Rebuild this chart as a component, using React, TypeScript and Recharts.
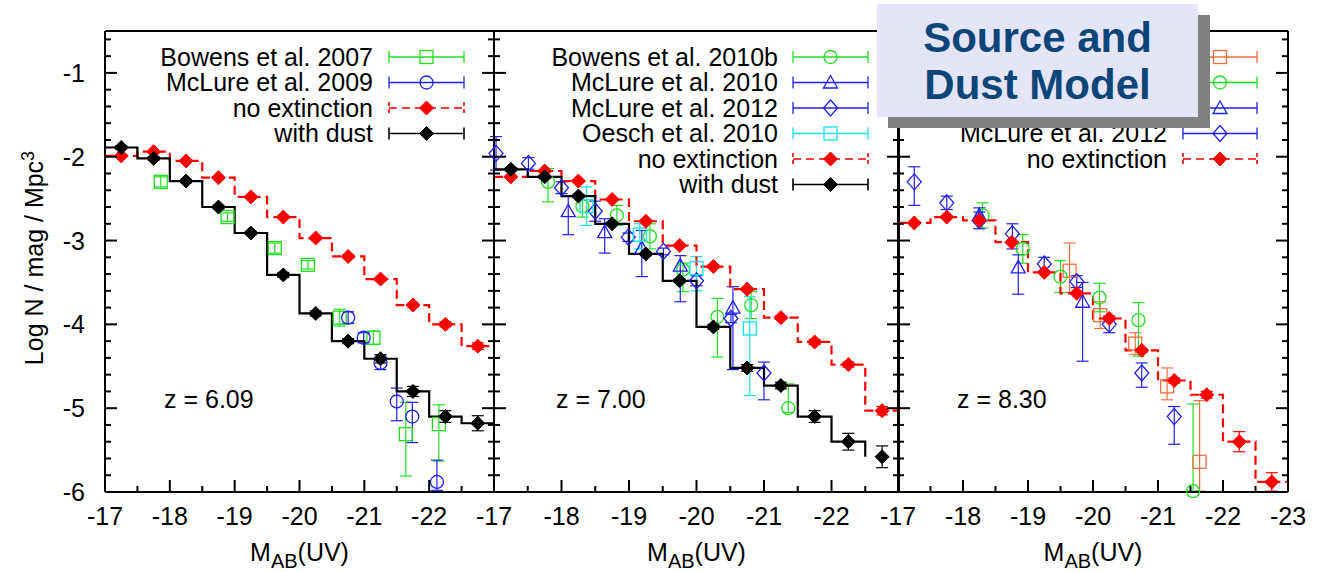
import React from "react";
import { ComposedChart, ErrorBar, Line, Scatter, XAxis, YAxis } from "recharts";

const W = 1328;
const H = 572;
const TOP = 31;
const BOTTOM = 492;
const FONT = '"Liberation Sans", Arial, Helvetica, sans-serif';

const GREEN = "#20e020";
const BLUE = "#2020f0";
const CYAN = "#10e6f0";
const RED = "#ff0000";
const ORANGE = "#f0703c";
const BLACK = "#000000";

// axes
const xTicks = [-17, -17.5, -18, -18.5, -19, -19.5, -20, -20.5, -21, -21.5, -22, -22.5, -23];
const yTicks = [
  -6, -5.8, -5.6, -5.4, -5.2, -5, -4.8, -4.6, -4.4, -4.2, -4, -3.8, -3.6, -3.4, -3.2, -3, -2.8, -2.6,
  -2.4, -2.2, -2, -1.8, -1.6, -1.4, -1.2, -1, -0.8, -0.6,
];
const yTickLabels = [-6, -5, -4, -3, -2, -1];
const xTickLabels = [-17, -18, -19, -20, -21, -22];
const xTickLabelsLast = [-17, -18, -19, -20, -21, -22, -23];

// model bins (centres, 0.5 mag wide)
const BIN = 0.5;
const modelBins = [-17.25, -17.75, -18.25, -18.75, -19.25, -19.75, -20.25, -20.75, -21.25, -21.75, -22.25, -22.75];

// z = 6.09
const z6NoExt = [-1.99, -1.94, -2.05, -2.25, -2.48, -2.72, -2.97, -3.19, -3.46, -3.77, -4.0, -4.26];
const z6NoExtErr = [0.01, 0.01, 0.01, 0.01, 0.01, 0.01, 0.01, 0.02, 0.02, 0.02, 0.03, 0.04];
const z6Dust = [-1.89, -2.02, -2.29, -2.6, -2.91, -3.41, -3.87, -4.2, -4.41, -4.8, -5.1, -5.18];
const z6DustErr = [0.02, 0.02, 0.02, 0.02, 0.02, 0.03, 0.03, 0.03, 0.05, 0.06, 0.07, 0.09];

const bowens07M = [-17.86, -18.89, -19.62, -20.13, -20.62, -21.14, -21.64, -22.15];
const bowens07Y = [-2.3, -2.72, -3.09, -3.29, -3.92, -4.16, -5.31, -5.19];
const bowens07Lo = [0.06, 0.05, 0.06, 0.05, 0.1, 0.08, 0.5, 0.44];
const bowens07Hi = [0.06, 0.05, 0.06, 0.05, 0.1, 0.08, 0.38, 0.23];

const mclure09M = [-20.75, -20.99, -21.25, -21.5, -21.74, -22.12];
const mclure09Y = [-3.92, -4.16, -4.46, -4.92, -5.1, -5.88];
const mclure09Lo = [0.07, 0.06, 0.08, 0.23, 0.31, 0.1];
const mclure09Hi = [0.07, 0.06, 0.08, 0.16, 0.17, 0.26];

// z = 7.00
const z7NoExt = [-2.24, -2.17, -2.29, -2.51, -2.77, -3.06, -3.31, -3.58, -3.92, -4.21, -4.48, -5.03];
const z7NoExtErr = [0.01, 0.01, 0.01, 0.01, 0.01, 0.01, 0.02, 0.02, 0.02, 0.03, 0.03, 0.05];
const z7Dust = [-2.15, -2.24, -2.47, -2.8, -3.16, -3.48, -4.03, -4.52, -4.73, -5.1, -5.4, -5.58];
const z7DustErr = [0.02, 0.02, 0.02, 0.02, 0.02, 0.02, 0.03, 0.04, 0.04, 0.07, 0.1, 0.13];

const bowens10M = [-17.8, -18.31, -18.82, -19.31, -19.8, -20.31, -20.81, -21.36];
const bowens10Y = [-2.3, -2.59, -2.7, -2.95, -3.35, -3.91, -3.77, -5.0];
const bowens10Lo = [0.24, 0.13, 0.12, 0.15, 0.26, 0.48, 0.16, 0.05];
const bowens10Hi = [0.16, 0.13, 0.12, 0.15, 0.08, 0.22, 0.16, 0.29];

const mclure10M = [-18.1, -18.64, -19.19, -19.76, -20.54];
const mclure10Y = [-2.65, -2.9, -3.09, -3.3, -3.8];
const mclure10Lo = [0.28, 0.25, 0.34, 0.43, 0.74];
const mclure10Hi = [0.18, 0.16, 0.21, 0.12, 0.25];

const mclure12M = [-17.03, -17.51, -18.0, -18.5, -18.99, -19.51, -20.0, -20.51, -21.0];
const mclure12Y = [-1.96, -2.08, -2.37, -2.65, -2.96, -3.13, -3.48, -3.93, -4.58];
const mclure12Lo = [0.2, 0.07, 0.07, 0.12, 0.05, 0.04, 0.06, 0.05, 0.32];
const mclure12Hi = [0.2, 0.07, 0.07, 0.12, 0.05, 0.04, 0.06, 0.05, 0.13];

const oeschM = [-18.37, -19.16, -20.0, -20.79];
const oeschY = [-2.59, -2.93, -3.33, -4.05];
const oeschLo = [0.23, 0.17, 0.27, 0.8];
const oeschHi = [0.23, 0.13, 0.14, 0.38];

// z = 8.30
const z8NoExt = [-2.79, -2.72, -2.76, -3.02, -3.38, -3.63, -3.93, -4.31, -4.67, -4.84, -5.4, -5.88];
const z8NoExtErr = [0.01, 0.01, 0.01, 0.01, 0.01, 0.01, 0.02, 0.02, 0.03, 0.04, 0.12, 0.11];

const bradleyM = [-19.64, -20.11, -20.65, -21.14, -21.64];
const bradleyY = [-3.36, -3.89, -4.23, -4.74, -5.64];
const bradleyLo = [0.26, 0.16, 0.13, 0.16, 0.35];
const bradleyHi = [0.33, 0.16, 0.13, 0.22, 0.73];

const bowens11M = [-18.3, -18.92, -19.5, -20.1, -20.7, -21.54];
const bowens11Y = [-2.7, -3.1, -3.43, -3.68, -3.95, -5.99];
const bowens11Lo = [0.15, 0.17, 0.19, 0.17, 0.43, 0];
const bowens11Hi = [0.15, 0.17, 0.19, 0.17, 0.21, 1.04];

const mclure10bM = [-18.25, -18.85, -19.84];
const mclure10bY = [-2.7, -3.32, -3.73];
const mclure10bLo = [0.09, 0.32, 0.71];
const mclure10bHi = [0.09, 0.15, 0.23];

const mclure12bM = [-17.25, -17.75, -18.25, -18.76, -19.25, -19.75, -20.25, -20.75, -21.25];
const mclure12bY = [-2.3, -2.55, -2.76, -2.92, -3.28, -3.49, -4.0, -4.58, -5.1];
const mclure12bLo = [0.28, 0.08, 0.1, 0.18, 0.08, 0.07, 0.1, 0.17, 0.33];
const mclure12bHi = [0.18, 0.08, 0.1, 0.12, 0.08, 0.07, 0.1, 0.12, 0.12];

type MarkerKind = "square" | "circle" | "triangle" | "diamond" | "fdiamond";
type Pt = { x: number; y: number; err: [number, number] };
type Layer =
  | { kind: "points"; data: Pt[]; color: string; marker: MarkerKind }
  | { kind: "step"; data: { x: number; y: number }[]; color: string; dashed: boolean };

function points(m: number[], y: number[], lo: number[], hi: number[]): Pt[] {
  return m.map((x, i) => ({ x, y: y[i], err: [lo[i], hi[i]] as [number, number] }));
}

function steps(values: number[], toEdge: boolean) {
  const pts = modelBins.map((c, i) => ({ x: c + BIN / 2, y: values[i] }));
  if (toEdge) pts.push({ x: modelBins[modelBins.length - 1] - BIN / 2, y: values[values.length - 1] });
  return pts;
}

function Marker({ kind, cx, cy, color }: { kind: MarkerKind; cx?: number; cy?: number; color: string }) {
  if (cx == null || cy == null) return null;
  const s = { fill: "none", stroke: color, strokeWidth: 1.3 };
  switch (kind) {
    case "square":
      return <rect x={cx - 6.5} y={cy - 6.5} width={13} height={13} {...s} />;
    case "circle":
      return <circle cx={cx} cy={cy} r={6.5} {...s} />;
    case "triangle":
      return <polygon points={`${cx},${cy - 7} ${cx + 7},${cy + 5.5} ${cx - 7},${cy + 5.5}`} {...s} />;
    case "diamond":
      return <polygon points={`${cx},${cy - 8} ${cx + 7},${cy} ${cx},${cy + 8} ${cx - 7},${cy}`} {...s} />;
    default:
      return <polygon points={`${cx},${cy - 7} ${cx + 7},${cy} ${cx},${cy + 7} ${cx - 7},${cy}`} fill={color} stroke={color} strokeWidth={1} />;
  }
}

const isMajor = (v: number) => Math.abs(v - Math.round(v)) < 1e-6;

function XTick(props: any) {
  const { x, y, payload, side, labels } = props;
  const v = payload.value;
  const len = isMajor(v) ? 12 : 6;
  const dir = side === "bottom" ? -1 : 1;
  const show = side === "bottom" && labels.some((l: number) => Math.abs(l - v) < 1e-6);
  return (
    <g>
      <line x1={x} x2={x} y1={y} y2={y + dir * len} stroke="#000" strokeWidth={2} />
      {show && (
        <text x={x} y={y + 33} textAnchor="middle" fontSize={25} fontFamily={FONT} fill="#000">
          {String(v)}
        </text>
      )}
    </g>
  );
}

function YTick(props: any) {
  const { x, y, payload, side, labels } = props;
  const v = payload.value;
  const len = isMajor(v) ? 12 : 6;
  const dir = side === "left" ? 1 : -1;
  const show = labels && labels.some((l: number) => Math.abs(l - v) < 1e-6);
  return (
    <g>
      <line x1={x} x2={x + dir * len} y1={y} y2={y} stroke="#000" strokeWidth={2} />
      {show && (
        <text x={x - 20} y={y + 9} textAnchor="end" fontSize={25} fontFamily={FONT} fill="#000">
          {String(v)}
        </text>
      )}
    </g>
  );
}

function Panel({
  left,
  right,
  layers,
  xLabels,
  yLabels,
}: {
  left: number;
  right: number;
  layers: Layer[];
  xLabels: number[];
  yLabels?: number[];
}) {
  const axisLine = { stroke: "#000", strokeWidth: 2 };
  return (
    <div style={{ position: "absolute", left: 0, top: 0 }}>
      <ComposedChart
        width={W}
        height={H}
        margin={{ top: TOP - 1, bottom: H - BOTTOM - 1, left: left - 1, right: W - right - 1 }}
      >
        <XAxis
          xAxisId="b"
          type="number"
          dataKey="x"
          domain={[-23, -17]}
          reversed
          ticks={xTicks}
          interval={0}
          height={1}
          tickSize={0}
          tickMargin={0}
          tickLine={false}
          axisLine={axisLine}
          tick={(p: any) => <XTick {...p} side="bottom" labels={xLabels} />}
        />
        <XAxis
          xAxisId="t"
          orientation="top"
          type="number"
          domain={[-23, -17]}
          allowDataOverflow
          reversed
          ticks={xTicks}
          interval={0}
          height={1}
          tickSize={0}
          tickMargin={0}
          tickLine={false}
          axisLine={axisLine}
          tick={(p: any) => <XTick {...p} side="top" labels={[]} />}
        />
        <YAxis
          yAxisId="l"
          type="number"
          dataKey="y"
          domain={[-6, -0.5]}
          ticks={yTicks}
          interval={0}
          width={1}
          tickSize={0}
          tickMargin={0}
          tickLine={false}
          axisLine={axisLine}
          tick={(p: any) => <YTick {...p} side="left" labels={yLabels} />}
        />
        <YAxis
          yAxisId="r"
          orientation="right"
          type="number"
          domain={[-6, -0.5]}
          allowDataOverflow
          ticks={yTicks}
          interval={0}
          width={1}
          tickSize={0}
          tickMargin={0}
          tickLine={false}
          axisLine={axisLine}
          tick={(p: any) => <YTick {...p} side="right" />}
        />
        {layers.map((layer, i) =>
          layer.kind === "step" ? (
            <Line
              key={i}
              xAxisId="b"
              yAxisId="l"
              data={layer.data}
              dataKey="y"
              type="stepAfter"
              stroke={layer.color}
              strokeWidth={2.2}
              strokeDasharray={layer.dashed ? "9 5" : undefined}
              dot={false}
              activeDot={false}
              isAnimationActive={false}
            />
          ) : (
            <Scatter
              key={i}
              xAxisId="b"
              yAxisId="l"
              data={layer.data}
              dataKey="y"
              isAnimationActive={false}
              shape={(p: any) => <Marker kind={layer.marker} cx={p.cx} cy={p.cy} color={layer.color} />}
            >
              <ErrorBar
                dataKey="err"
                direction="y"
                width={6}
                stroke={layer.color}
                strokeWidth={1.2}
                isAnimationActive={false}
              />
            </Scatter>
          )
        )}
      </ComposedChart>
    </div>
  );
}

// label is left empty where the reference hides the key text under the title box
type KeyItem = { label: string; color: string; marker: MarkerKind; dashed?: boolean };

function Key({ items, textRight, x0, x1 }: { items: KeyItem[]; textRight: number; x0: number; x1: number }) {
  const mid = (x0 + x1) / 2;
  return (
    <g>
      {items.map((it, i) => {
        const y = 57 + i * 25.5;
        const dash = it.dashed ? "8 5" : undefined;
        const sw = it.marker === "fdiamond" ? 1.6 : 1.3;
        return (
          <g key={i}>
            {it.label && (
              <text x={textRight} y={y + 8.5} textAnchor="end" fontSize={25} fill="#000">
                {it.label}
              </text>
            )}
            <line x1={x0} x2={x1} y1={y} y2={y} stroke={it.color} strokeWidth={sw} strokeDasharray={dash} />
            <line x1={x0} x2={x0} y1={y - 6} y2={y + 6} stroke={it.color} strokeWidth={sw} strokeDasharray={it.dashed ? "4 3" : undefined} />
            <line x1={x1} x2={x1} y1={y - 6} y2={y + 6} stroke={it.color} strokeWidth={sw} strokeDasharray={it.dashed ? "4 3" : undefined} />
            <Marker kind={it.marker} cx={mid} cy={y} color={it.color} />
          </g>
        );
      })}
    </g>
  );
}

function XTitle({ cx }: { cx: number }) {
  return (
    <text x={cx} y={561} textAnchor="middle" fontSize={25} fill="#000">
      M
      <tspan dy={7} fontSize={20}>
        AB
      </tspan>
      <tspan dy={-7}>(UV)</tspan>
    </text>
  );
}

const noExtKey: KeyItem = { label: "no extinction", color: RED, marker: "fdiamond", dashed: true };
const dustKey: KeyItem = { label: "with dust", color: BLACK, marker: "fdiamond" };

export default function App() {
  const panel1: Layer[] = [
    { kind: "points", data: points(bowens07M, bowens07Y, bowens07Lo, bowens07Hi), color: GREEN, marker: "square" },
    { kind: "points", data: points(mclure09M, mclure09Y, mclure09Lo, mclure09Hi), color: BLUE, marker: "circle" },
    { kind: "step", data: steps(z6NoExt, true), color: RED, dashed: true },
    { kind: "points", data: points(modelBins, z6NoExt, z6NoExtErr, z6NoExtErr), color: RED, marker: "fdiamond" },
    { kind: "step", data: steps(z6Dust, true), color: BLACK, dashed: false },
    { kind: "points", data: points(modelBins, z6Dust, z6DustErr, z6DustErr), color: BLACK, marker: "fdiamond" },
  ];
  const panel2: Layer[] = [
    { kind: "points", data: points(bowens10M, bowens10Y, bowens10Lo, bowens10Hi), color: GREEN, marker: "circle" },
    { kind: "points", data: points(mclure10M, mclure10Y, mclure10Lo, mclure10Hi), color: BLUE, marker: "triangle" },
    { kind: "points", data: points(mclure12M, mclure12Y, mclure12Lo, mclure12Hi), color: BLUE, marker: "diamond" },
    { kind: "points", data: points(oeschM, oeschY, oeschLo, oeschHi), color: CYAN, marker: "square" },
    { kind: "step", data: steps(z7NoExt, true), color: RED, dashed: true },
    { kind: "points", data: points(modelBins, z7NoExt, z7NoExtErr, z7NoExtErr), color: RED, marker: "fdiamond" },
    { kind: "step", data: steps(z7Dust, false), color: BLACK, dashed: false },
    { kind: "points", data: points(modelBins, z7Dust, z7DustErr, z7DustErr), color: BLACK, marker: "fdiamond" },
  ];
  const panel3: Layer[] = [
    { kind: "points", data: points(bradleyM, bradleyY, bradleyLo, bradleyHi), color: ORANGE, marker: "square" },
    { kind: "points", data: points(bowens11M, bowens11Y, bowens11Lo, bowens11Hi), color: GREEN, marker: "circle" },
    { kind: "points", data: points(mclure10bM, mclure10bY, mclure10bLo, mclure10bHi), color: BLUE, marker: "triangle" },
    { kind: "points", data: points(mclure12bM, mclure12bY, mclure12bLo, mclure12bHi), color: BLUE, marker: "diamond" },
    { kind: "step", data: steps(z8NoExt, true), color: RED, dashed: true },
    { kind: "points", data: points(modelBins, z8NoExt, z8NoExtErr, z8NoExtErr), color: RED, marker: "fdiamond" },
  ];

  return (
    <div style={{ position: "absolute", left: 0, top: 0, width: W, height: H, background: "#fff", fontFamily: FONT }}>
      <Panel left={105} right={494} layers={panel1} xLabels={xTickLabels} yLabels={yTickLabels} />
      <Panel left={494} right={899} layers={panel2} xLabels={xTickLabels} />
      <Panel left={898} right={1288} layers={panel3} xLabels={xTickLabelsLast} />
      <svg width={W} height={H} style={{ position: "absolute", left: 0, top: 0 }} fontFamily={FONT}>
        <text transform="translate(43,258) rotate(-90)" textAnchor="middle" fontSize={25} fill="#000">
          Log N / mag / Mpc
          <tspan dy={-9} fontSize={18}>
            3
          </tspan>
        </text>
        <XTitle cx={299.5} />
        <XTitle cx={696.5} />
        <XTitle cx={1093} />
        <text x={164} y={408} fontSize={25} fill="#000">z = 6.09</text>
        <text x={556} y={408} fontSize={25} fill="#000">z = 7.00</text>
        <text x={957} y={408} fontSize={25} fill="#000">z = 8.30</text>
        <Key
          textRight={373}
          x0={389}
          x1={464}
          items={[
            { label: "Bowens et al. 2007", color: GREEN, marker: "square" },
            { label: "McLure et al. 2009", color: BLUE, marker: "circle" },
            noExtKey,
            dustKey,
          ]}
        />
        <Key
          textRight={778}
          x0={793}
          x1={868}
          items={[
            { label: "Bowens et al. 2010b", color: GREEN, marker: "circle" },
            { label: "McLure et al. 2010", color: BLUE, marker: "triangle" },
            { label: "McLure et al. 2012", color: BLUE, marker: "diamond" },
            { label: "Oesch et al. 2010", color: CYAN, marker: "square" },
            noExtKey,
            dustKey,
          ]}
        />
        <Key
          textRight={1167}
          x0={1183}
          x1={1257}
          items={[
            { label: "", color: ORANGE, marker: "square" },
            { label: "", color: GREEN, marker: "circle" },
            { label: "", color: BLUE, marker: "triangle" },
            { label: "McLure et al. 2012", color: BLUE, marker: "diamond" },
            noExtKey,
          ]}
        />
        <rect x={888} y={15} width={322} height={113} fill="#808080" />
        <rect x={877} y={4} width={321} height={113} fill="#e5e5fa" />
        <text x={1037.5} y={51.7} textAnchor="middle" fontSize={42} fontWeight="bold" fill="#0c4679">
          Source and
        </text>
        <text x={1037.5} y={99} textAnchor="middle" fontSize={42} fontWeight="bold" fill="#0c4679">
          Dust Model
        </text>
      </svg>
    </div>
  );
}
